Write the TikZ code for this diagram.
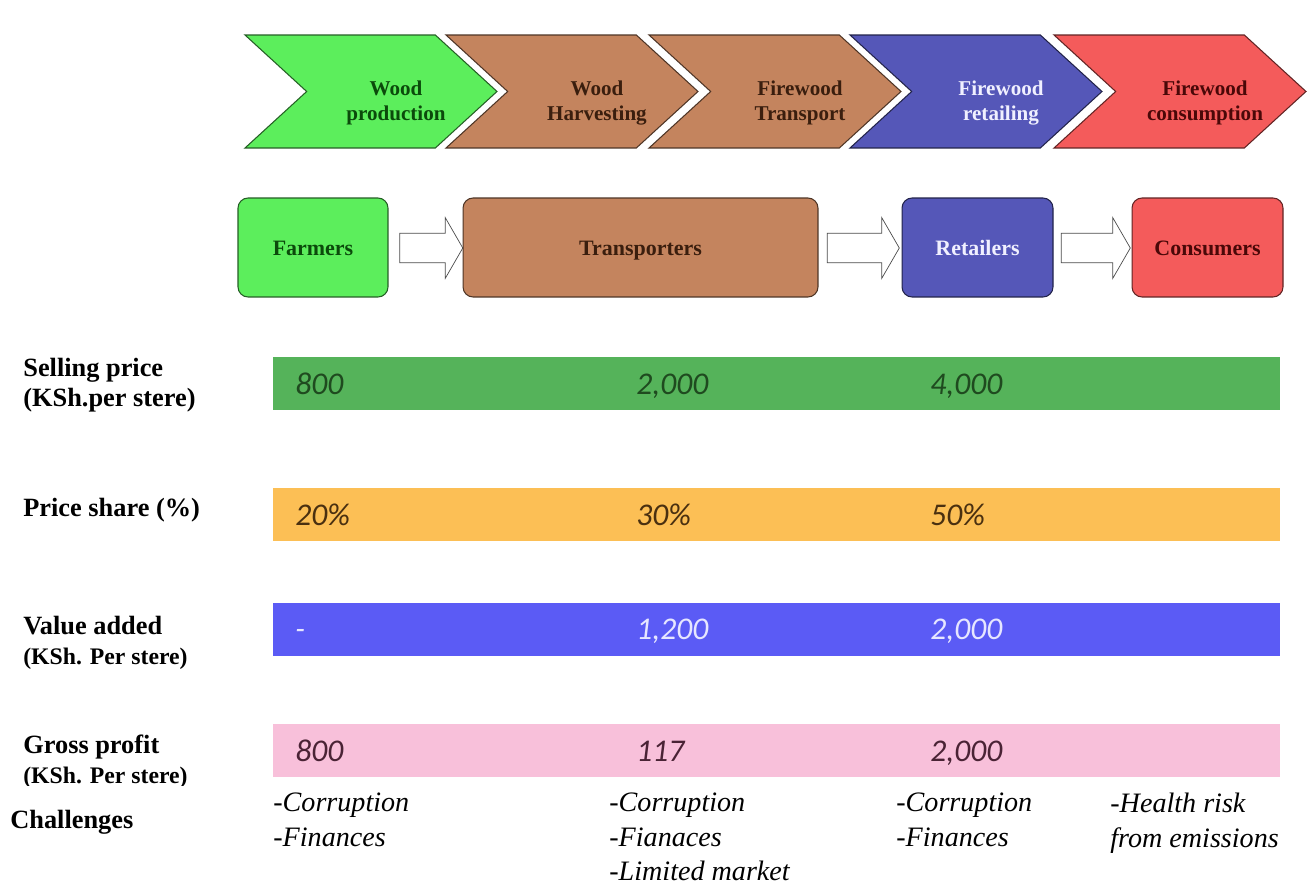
\documentclass[tikz,border=0pt]{standalone}
\usepackage{fontspec}
\setmainfont{Liberation Serif}
\newfontfamily\numfont{Carlito}
\usetikzlibrary{shapes, positioning}

\definecolor{prodgreen}{HTML}{5CEE5C}
\definecolor{woodbrown}{HTML}{C4845E}
\definecolor{retailblue}{HTML}{5557B8}
\definecolor{consred}{HTML}{F45B5B}
\definecolor{sellgreen}{HTML}{55B35A}
\definecolor{shareorange}{HTML}{FCBF55}
\definecolor{addblue}{HTML}{5B5BF5}
\definecolor{profitpink}{HTML}{F8C0DA}
\definecolor{greentext}{HTML}{0B4A0B}
\definecolor{browntext}{HTML}{3A1E0E}
\definecolor{bluetext}{HTML}{F0F0FF}
\definecolor{redtext}{HTML}{4A0808}
\definecolor{selltext}{HTML}{1F4A1F}
\definecolor{sharetext}{HTML}{4A3010}
\definecolor{addtext}{HTML}{E6E6FF}
\definecolor{profittext}{HTML}{4A2335}

\tikzstyle{stage} = [signal, signal to=east, signal from=west, signal pointer angle=85, inner sep=0,
                     minimum width=5.04cm, minimum height=2.26cm, line width=0.6pt]
\tikzstyle{stagetext} = [align=center, inner sep=0, font=\fontsize{12}{14}\selectfont\bfseries]
\tikzstyle{actor} = [rectangle, rounded corners=0.2cm, minimum height=1.98cm, line width=0.6pt,
                     text height=1.9ex, text depth=0pt, font=\fontsize{12.5}{14}\selectfont\bfseries]
\tikzstyle{flow} = [single arrow, draw=black!70, fill=white, single arrow tip angle=120,
                    single arrow head extend=0.31cm, minimum width=1.2cm, inner xsep=0, inner ysep=0.29cm]
\tikzstyle{bar} = [rectangle, minimum width=20.14cm, minimum height=1.06cm, inner sep=0]
\tikzstyle{value} = [anchor=base west, inner sep=0, font=\numfont\itshape\fontsize{18}{20}\selectfont]
\tikzstyle{rowlabel} = [anchor=west, align=left, inner sep=0, font=\fontsize{15}{17}\selectfont\bfseries]
\tikzstyle{challenge} = [anchor=north west, align=left, inner sep=0, font=\fontsize{16}{19.5}\selectfont\itshape]

\begin{document}
\begin{tikzpicture}[x=0.02cm, y=-0.02cm]
\useasboundingbox[fill=white] (0,0) rectangle (1314,885);

% value chain stages
\node (Production) [stage, fill=prodgreen, draw=prodgreen!40!black] at (371, 91.5) {};
\node (Harvesting) [stage, fill=woodbrown, draw=woodbrown!40!black] at (572, 91.5) {};
\node (Transport) [stage, fill=woodbrown, draw=woodbrown!40!black] at (775, 91.5) {};
\node (Retailing) [stage, fill=retailblue, draw=retailblue!40!black] at (976, 91.5) {};
\node (Consumption) [stage, fill=consred, draw=consred!40!black] at (1180, 91.5) {};

\node (ProductionText) [stagetext, text=greentext] at ([xshift=0.5cm, yshift=-0.23cm]Production.center) {Wood\\production};
\node (HarvestingText) [stagetext, text=browntext] at ([xshift=0.5cm, yshift=-0.23cm]Harvesting.center) {Wood\\Harvesting};
\node (TransportText) [stagetext, text=browntext] at ([xshift=0.5cm, yshift=-0.23cm]Transport.center) {Firewood\\Transport};
\node (RetailingText) [stagetext, text=bluetext] at ([xshift=0.5cm, yshift=-0.23cm]Retailing.center) {Firewood\\retailing};
\node (ConsumptionText) [stagetext, text=redtext] at ([xshift=0.5cm, yshift=-0.23cm]Consumption.center) {Firewood\\consumption};

% actors
\node (Farmers) [actor, fill=prodgreen, draw=prodgreen!40!black, text=greentext, minimum width=3cm] at (313, 247.5) {Farmers};
\node (Transporters) [actor, fill=woodbrown, draw=woodbrown!40!black, text=browntext, minimum width=7.1cm] at (640.5, 247.5) {Transporters};
\node (Retailers) [actor, fill=retailblue, draw=retailblue!40!black, text=bluetext, minimum width=3.02cm] at (977.5, 247.5) {Retailers};
\node (Consumers) [actor, fill=consred, draw=consred!40!black, text=redtext, minimum width=3.02cm] at (1207.5, 247.5) {Consumers};

\node (FlowA) [flow, minimum height=1.26cm] at (427, 248) {};
\node (FlowB) [flow, minimum height=1.44cm] at (859, 248) {};
\node (FlowC) [flow, minimum height=1.38cm] at (1091.5, 248) {};

% bars
\node (SellBar) [bar, fill=sellgreen] at (776.5, 383.5) {};
\node (ShareBar) [bar, fill=shareorange] at (776.5, 514.5) {};
\node (AddBar) [bar, fill=addblue] at (776.5, 629) {};
\node (ProfitBar) [bar, fill=profitpink] at (776.5, 750.5) {};

\node (Sell1) [value, text=selltext] at (295, 394) {800};
\node (Sell2) [value, text=selltext] at (636, 394) {2,000};
\node (Sell3) [value, text=selltext] at (930, 394) {4,000};
\node (Share1) [value, text=sharetext] at (295, 525) {20\%};
\node (Share2) [value, text=sharetext] at (636, 525) {30\%};
\node (Share3) [value, text=sharetext] at (930, 525) {50\%};
\node (Add1) [value, text=addtext] at (295, 639.5) {-};
\node (Add2) [value, text=addtext] at (636, 639.5) {1,200};
\node (Add3) [value, text=addtext] at (930, 639.5) {2,000};
\node (Profit1) [value, text=profittext] at (295, 761) {800};
\node (Profit2) [value, text=profittext] at (636, 761) {117};
\node (Profit3) [value, text=profittext] at (930, 761) {2,000};

% row labels
\node (SellLabel) [rowlabel] at (23, 385) {Selling price\\(KSh.per stere)};
\node (ShareLabel) [rowlabel] at (23, 510) {Price share (\%)};
\node (AddLabel) [rowlabel] at (23, 643) {Value added\\{\fontsize{13.5}{15}\selectfont(KSh. Per stere)}};
\begin{scope}
  \clip (0, 700) rectangle (260, 785);
  \node (ProfitLabel) [rowlabel] at (23, 762) {Gross profit\\{\fontsize{13.5}{15}\selectfont(KSh. Per stere)}};
\end{scope}
\node (ChallengeLabel) [rowlabel] at (10, 822) {Challenges};

% challenges
\node (Challenge1) [challenge] at (273, 793) {-Corruption\\-Finances};
\node (Challenge2) [challenge] at (609, 793) {-Corruption\\-Fianaces\\-Limited market};
\node (Challenge3) [challenge] at (896, 793) {-Corruption\\-Finances};
\node (Challenge4) [challenge] at (1110, 793) {-Health risk\\from emissions};
\end{tikzpicture}
\end{document}
